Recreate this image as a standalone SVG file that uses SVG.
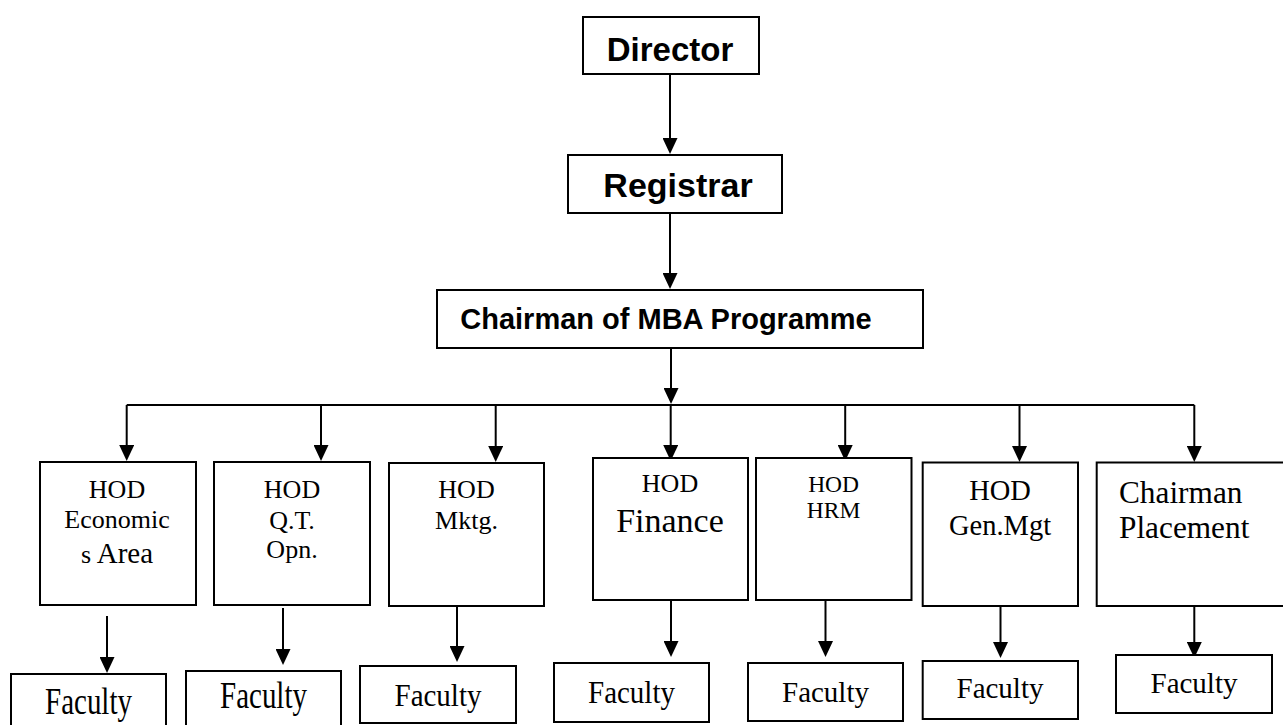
<svg xmlns="http://www.w3.org/2000/svg" width="1283" height="725" viewBox="0 0 1283 725">
<style>
.box{fill:#fff;stroke:#000;stroke-width:2}
.ln{fill:none;stroke:#000;stroke-width:2;marker-end:url(#ah)}
.bus{fill:none;stroke:#000;stroke-width:2}
.sb{font-family:"Liberation Sans",Arial,sans-serif;font-weight:bold;fill:#000;text-anchor:middle}
.sf{font-family:"Liberation Serif","Times New Roman",serif;fill:#000;text-anchor:middle}
.sl{font-family:"Liberation Serif","Times New Roman",serif;fill:#000;text-anchor:start}
.fac{font-size:29px}
</style>
<defs>
<marker id="ah" viewBox="0 0 16 15" refX="8" refY="7.5" markerWidth="16" markerHeight="15" markerUnits="userSpaceOnUse" orient="auto">
<path d="M0,0 L16,7.5 L0,15 z" fill="#000"/>
</marker>
</defs>
<rect width="1283" height="725" fill="#fff"/>
<g id="connectors">
<line class="ln" x1="670" y1="74" x2="670" y2="146"/>
<line class="ln" x1="670" y1="213" x2="670" y2="281"/>
<line class="ln" x1="671" y1="348" x2="671" y2="396"/>
<line class="bus" x1="126.7" y1="405" x2="1194.3" y2="405"/>
<line class="ln" x1="126.7" y1="405" x2="126.7" y2="453"/>
<line class="ln" x1="321" y1="405" x2="321" y2="453"/>
<line class="ln" x1="495.7" y1="405" x2="495.7" y2="454"/>
<line class="ln" x1="670.7" y1="405" x2="670.7" y2="453"/>
<line class="ln" x1="845.2" y1="405" x2="845.2" y2="453"/>
<line class="ln" x1="1019.5" y1="405" x2="1019.5" y2="454"/>
<line class="ln" x1="1194.3" y1="405" x2="1194.3" y2="454"/>
<line class="ln" x1="107" y1="616" x2="107" y2="665"/>
<line class="ln" x1="283" y1="608" x2="283" y2="657"/>
<line class="ln" x1="457" y1="604" x2="457" y2="654"/>
<line class="ln" x1="671" y1="600" x2="671" y2="649"/>
<line class="ln" x1="825.5" y1="600" x2="825.5" y2="649"/>
<line class="ln" x1="1000.5" y1="602" x2="1000.5" y2="650"/>
<line class="ln" x1="1194.3" y1="602" x2="1194.3" y2="650"/>
</g>
<g id="director">
<rect class="box" x="583" y="17" width="176" height="57"/>
<text class="sb" x="670" y="60.5" font-size="33">Director</text>
</g>
<g id="registrar">
<rect class="box" x="568" y="155" width="214" height="58"/>
<text class="sb" x="678" y="197" font-size="34">Registrar</text>
</g>
<g id="chairman-mba">
<rect class="box" x="437" y="290" width="486" height="58"/>
<text class="sb" x="666" y="329" font-size="29">Chairman of MBA Programme</text>
</g>
<g id="hod-economics">
<rect class="box" x="40" y="462" width="156" height="143"/>
<text class="sf" x="117" y="498" font-size="26">HOD</text>
<text class="sf" x="117" y="528" font-size="26">Economic</text>
<text class="sf" x="117" y="563" font-size="26">s<tspan font-size="29"> Area</tspan></text>
</g>
<g id="hod-qt">
<rect class="box" x="214" y="462" width="156" height="143"/>
<text class="sf" x="292" y="498" font-size="26">HOD</text>
<text class="sf" x="292" y="529" font-size="26">Q.T.</text>
<text class="sf" x="292" y="558" font-size="26">Opn.</text>
</g>
<g id="hod-mktg">
<rect class="box" x="389" y="463" width="155" height="143"/>
<text class="sf" x="466.5" y="498" font-size="26">HOD</text>
<text class="sf" x="466.5" y="529" font-size="26">Mktg.</text>
</g>
<g id="hod-finance">
<rect class="box" x="593" y="458" width="155" height="142"/>
<text class="sf" x="670" y="492" font-size="26">HOD</text>
<text class="sf" x="670" y="532" font-size="34">Finance</text>
</g>
<g id="hod-hrm">
<rect class="box" x="756" y="458" width="155.5" height="142"/>
<text class="sf" x="833.6" y="492" font-size="23.5">HOD</text>
<text class="sf" x="833.6" y="518" font-size="23.5">HRM</text>
</g>
<g id="hod-genmgt">
<rect class="box" x="922.7" y="462.5" width="155.3" height="143.5"/>
<text class="sf" x="1000" y="500" font-size="28.5">HOD</text>
<text class="sf" x="1000" y="535" font-size="28.5">Gen.Mgt</text>
</g>
<g id="chairman-placement">
<rect class="box" x="1096.7" y="462.5" width="200" height="143.5"/>
<text class="sl" x="1119" y="503" font-size="31.3">Chairman</text>
<text class="sl" x="1119" y="538" font-size="31.3">Placement</text>
</g>
<g id="faculty-economics">
<rect class="box" x="11" y="674" width="155" height="60"/>
<text class="sf fac" transform="translate(88.5,714) scale(1,1.28)">Faculty</text>
</g>
<g id="faculty-qt">
<rect class="box" x="186" y="671" width="155" height="60"/>
<text class="sf fac" transform="translate(263.5,708) scale(1,1.28)">Faculty</text>
</g>
<g id="faculty-mktg">
<rect class="box" x="360" y="666" width="156" height="57"/>
<text class="sf fac" transform="translate(438,706) scale(1,1.1)">Faculty</text>
</g>
<g id="faculty-finance">
<rect class="box" x="554" y="663" width="155" height="59"/>
<text class="sf fac" transform="translate(631.5,703) scale(1,1.1)">Faculty</text>
</g>
<g id="faculty-hrm">
<rect class="box" x="748" y="663" width="155" height="58"/>
<text class="sf fac" x="825.5" y="701.7">Faculty</text>
</g>
<g id="faculty-genmgt">
<rect class="box" x="922.7" y="661" width="155.3" height="58"/>
<text class="sf fac" x="1000" y="698.3">Faculty</text>
</g>
<g id="faculty-placement">
<rect class="box" x="1116" y="655" width="156" height="58"/>
<text class="sf fac" x="1194" y="692.7">Faculty</text>
</g>
</svg>
